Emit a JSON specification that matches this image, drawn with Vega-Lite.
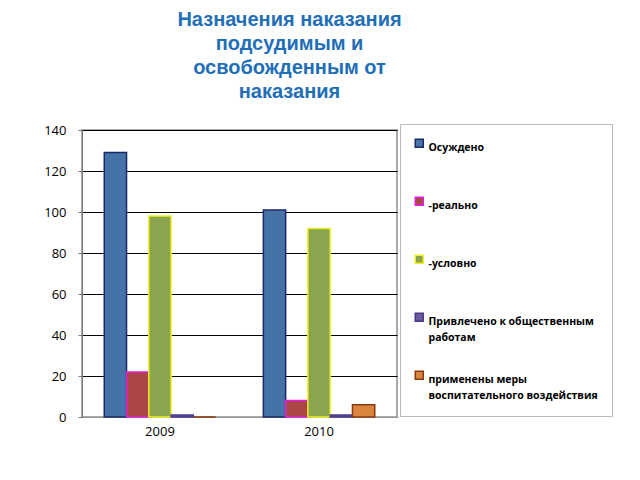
{
  "$schema": "https://vega.github.io/schema/vega-lite/v6.json",
  "width": 315,
  "height": 287,
  "autosize": "none",
  "padding": {"left": 82, "top": 130, "right": 243, "bottom": 63},
  "background": "white",
  "title": {
    "text": ["Назначения наказания", "подсудимым и", "освобожденным от", "наказания"],
    "anchor": "middle",
    "dx": 50,
    "offset": 22,
    "fontSize": 20,
    "lineHeight": 24,
    "font": "Liberation Sans",
    "fontWeight": "bold",
    "color": "#1F6FB8"
  },
  "data": {
    "values": [
      {"year": "2009", "series": "Осуждено", "value": 129},
      {"year": "2009", "series": "-реально", "value": 22},
      {"year": "2009", "series": "-условно", "value": 98},
      {"year": "2009", "series": "Привлечено к общественным работам", "value": 1},
      {"year": "2009", "series": "применены меры воспитательного воздействия", "value": 0},
      {"year": "2010", "series": "Осуждено", "value": 101},
      {"year": "2010", "series": "-реально", "value": 8},
      {"year": "2010", "series": "-условно", "value": 92},
      {"year": "2010", "series": "Привлечено к общественным работам", "value": 1},
      {"year": "2010", "series": "применены меры воспитательного воздействия", "value": 6}
    ]
  },
  "mark": {"type": "bar", "strokeWidth": 1.5},
  "encoding": {
    "x": {
      "field": "year", "type": "nominal",
      "scale": {"paddingInner": 0.3, "paddingOuter": 0.14},
      "axis": {"title": null, "labelAngle": 0, "labelFontSize": 13, "labelFont": "Open Sans", "labelColor": "black", "labelPadding": 8, "domainColor": "#999", "ticks": false}
    },
    "xOffset": {
      "field": "series", "type": "nominal",
      "sort": ["Осуждено", "-реально", "-условно", "Привлечено к общественным работам", "применены меры воспитательного воздействия"],
      "scale": {"paddingInner": 0, "paddingOuter": 0}
    },
    "y": {
      "field": "value", "type": "quantitative",
      "scale": {"domain": [0, 140]},
      "axis": {"title": null, "values": [0, 20, 40, 60, 80, 100, 120, 140], "labelFontSize": 13, "labelFont": "Open Sans", "labelColor": "black", "labelPadding": 12, "gridColor": "black", "gridOpacity": 1, "domainColor": "#777", "tickColor": "#777", "tickSize": 4}
    },
    "color": {
      "field": "series", "type": "nominal",
      "sort": ["Осуждено", "-реально", "-условно", "Привлечено к общественным работам", "применены меры воспитательного воздействия"],
      "scale": {"range": ["#4572A7", "#AA4643", "#89A54E", "#6A5A9C", "#DB843D"]},
      "legend": {
        "title": null,
        "orient": "none",
        "legendX": 318,
        "legendY": -6,
        "direction": "vertical",
        "fillColor": "white",
        "strokeColor": "#bbbbbb",
        "padding": 14,
        "symbolType": "square",
        "symbolSize": 64,
        "symbolStrokeWidth": 1.5,
        "labelFont": "Open Sans",
        "labelFontWeight": "bold",
        "labelFontSize": 10.5,
        "labelColor": "black",
        "labelLimit": 300,
        "rowPadding": 24,
        "labelBaseline": "top",
        "labelOffset": 4,
        "labelExpr": "datum.label == 'Привлечено к общественным работам' ? ['Привлечено к общественным', 'работам'] : datum.label == 'применены меры воспитательного воздействия' ? ['применены меры', 'воспитательного воздействия'] : [datum.label, ' ']",
        "encode": {
          "symbols": {"update": {"stroke": {"scale": "stroke", "field": "value"}}},
          "labels": {"update": {"lineHeight": {"value": 16}}}
        }
      }
    },
    "stroke": {
      "field": "series", "type": "nominal",
      "sort": ["Осуждено", "-реально", "-условно", "Привлечено к общественным работам", "применены меры воспитательного воздействия"],
      "scale": {"range": ["#1A2A66", "#E020E0", "#F0F020", "#4B3A8C", "#8B3A10"]},
      "legend": null
    }
  },
  "config": {
    "view": {"stroke": "#aaaaaa", "strokeWidth": 2}
  }
}
